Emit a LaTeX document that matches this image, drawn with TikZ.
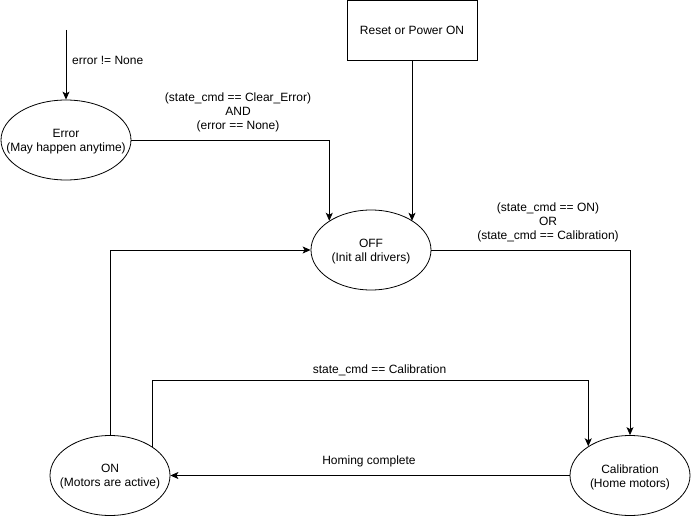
\documentclass[tikz,border=0pt]{standalone}
\usepackage{fontspec}
\setmainfont{Liberation Sans}
\usetikzlibrary{arrows.meta,shapes.geometric}
\begin{document}
\begin{tikzpicture}[x=1pt,y=-1pt,
  font=\fontsize{12}{14}\selectfont,
  state/.style={ellipse,draw,line width=0.8pt,inner sep=0pt,minimum width=120pt,minimum height=80pt},
  startbox/.style={rectangle,draw,line width=0.8pt,minimum width=130pt,minimum height=60pt},
  arr/.style={line width=0.8pt,-{Stealth[length=8pt,width=7pt,inset=2pt]}},
  cond/.style={align=center,inner sep=0pt},
  inner/.style={cond,yshift=-1.5pt}]
\useasboundingbox (0,0) rectangle (691,516);

% states
\node[state,minimum width=130pt] (err) at (66,140) {};
\node at (err) [inner] {Error\\(May happen anytime)};
\node[state] (off) at (371,250) {};
\node at (off) [inner] {OFF\\(Init all drivers)};
\node[state] (on) at (110,475.5) {};
\node at (on) [inner] {ON\\(Motors are active)};
\node[state] (cal) at (630,475.5) {};
\node at (cal) [inner] {Calibration\\(Home motors)};
\node[startbox] (reset) at (412,30.4) {Reset or Power ON};

% transitions
\coordinate (errsrc) at (66,30);
\draw[arr] (errsrc) -- (err.north);
\node[cond,anchor=west] (lblerr) at (72,60) {error != None};

\draw[arr] (err.east) -| (off.145.7);
\node[cond,yshift=-1.5pt] (lblclear) at (238,110.5) {(state\_cmd == Clear\_Error)\\AND\\(error == None)};

\draw[arr] (reset.south) -- (reset.south |- off.35.5);

\draw[arr] (off.east) -| (cal.north);
\node[cond,yshift=-1.5pt] (lblstart) at (548,221) {(state\_cmd == ON)\\OR\\(state\_cmd == Calibration)};

\draw[arr] (on.north) |- (off.west);

\coordinate (calrow) at (0,380.5);
\draw[arr] (on.34.3) -- (on.34.3 |- calrow) -| (cal.145.7);
\node[cond] (lblcal) at (379.5,370.5) {state\_cmd == Calibration};

\draw[arr] (cal.west) -- (on.east);
\node[cond] (lblhome) at (369,461) {Homing complete};
\end{tikzpicture}
\end{document}
